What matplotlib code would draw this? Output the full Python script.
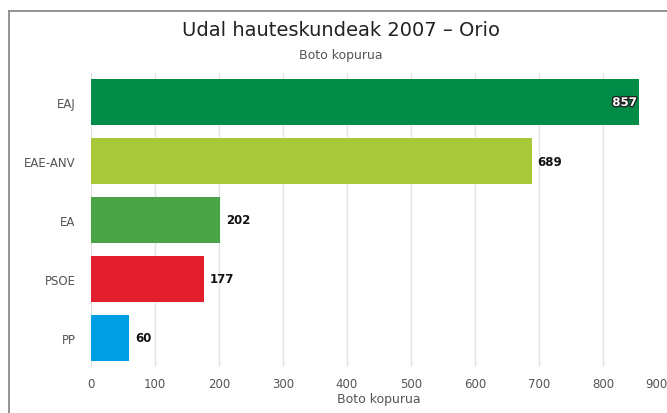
import matplotlib.pyplot as plt
import matplotlib.patheffects as pe
from matplotlib.lines import Line2D

parties = ["EAJ", "EAE-ANV", "EA", "PSOE", "PP"]
votes = [857, 689, 202, 177, 60]
colors = ["#008c47", "#a8c83a", "#4aa548", "#e31e2d", "#009fe3"]
x_ticks = [0, 100, 200, 300, 400, 500, 600, 700, 800, 900]

fig = plt.figure(figsize=(6.67, 4.14), dpi=100)
fig.patch.set_facecolor("white")
ax = fig.add_axes([91 / 667, 1 - 368 / 414, 1 - 91 / 667, 294 / 414])

ypos = list(range(len(parties)))
ax.barh(ypos, votes, height=0.78, color=colors, zorder=3)
ax.set_ylim(len(parties) - 0.5, -0.5)
ax.set_xlim(0, 900)

ax.set_yticks(ypos)
ax.set_yticklabels(parties, color="#555555", fontsize=8.5)
ax.set_xticks(x_ticks)
ax.set_xticklabels([str(t) for t in x_ticks], color="#555555", fontsize=8.5)
ax.get_xticklabels()[-1].set_horizontalalignment("right")
ax.tick_params(axis="both", length=0)
ax.tick_params(axis="y", pad=11)
ax.tick_params(axis="x", pad=7)
ax.set_xlabel("Boto kopurua", color="#555555", fontsize=9, labelpad=2)

ax.grid(axis="x", color="#e3e3e3", linewidth=1, zorder=0)
for side in ax.spines.values():
    side.set_visible(False)

for y, v in zip(ypos, votes):
    if v == max(votes):
        ax.text(v - 4, y, str(v), ha="right", va="center", fontsize=8.5,
                fontweight="bold", color="white", zorder=4,
                path_effects=[pe.withStroke(linewidth=2, foreground="#222222")])
    else:
        ax.text(v + 9, y, str(v), ha="left", va="center", fontsize=8.5,
                fontweight="bold", color="#111111", zorder=4)

fig.text(341 / 667, 1 - 30 / 414, "Udal hauteskundeak 2007 – Orio",
         ha="center", va="center", fontsize=14, color="#222222")
fig.text(341 / 667, 1 - 55 / 414, "Boto kopurua",
         ha="center", va="center", fontsize=9, color="#555555")

# outer frame (cropped screenshot: only left and top edges visible)
fig.add_artist(Line2D([8.5 / 667, 8.5 / 667], [0, 1 - 12 / 414], color="#8a8a8a", linewidth=1.3))
fig.add_artist(Line2D([8.5 / 667, 1], [1 - 12 / 414, 1 - 12 / 414], color="#8a8a8a", linewidth=1.3))

fig.savefig("out.png", dpi=100)
